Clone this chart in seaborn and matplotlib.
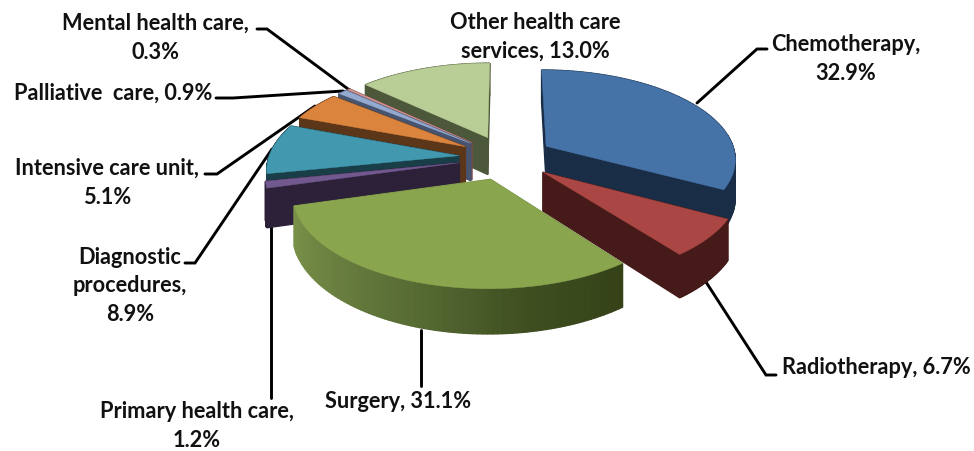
import numpy as np
import matplotlib
matplotlib.use("Agg")
import matplotlib.pyplot as plt
import seaborn as sns

categories = ["Chemotherapy", "Radiotherapy", "Surgery", "Primary health care",
              "Diagnostic procedures", "Intensive care unit", "Palliative care",
              "Mental health care", "Other health care services"]
shares = [32.9, 6.7, 31.1, 1.2, 8.9, 5.1, 0.9, 0.3, 13.0]
top_colors = ["#4572a7", "#aa4643", "#89a54e", "#71588f", "#4198af",
              "#db843d", "#93a9cf", "#d19392", "#b9cd96"]
wall_colors = ["#1a2d47", "#451a18", "#748c46", "#2d2139", "#1a3e47",
               "#5c3618", "#46546f", "#7a4b4a", "#4d5739"]

sns.set_theme(style="white")
plt.rcParams["font.family"] = ["Lato", "DejaVu Sans"]

fig, ax = plt.subplots(figsize=(9.74, 4.51), dpi=100)
fig.subplots_adjust(0, 0, 1, 1)

# the pie gives the angles and the exploded centres, the tilt is done by hand
wedges, _ = ax.pie(shares, explode=[0.25] * len(shares), startangle=90,
                   counterclock=False, colors=sns.color_palette(top_colors))

ax.set_aspect("auto")
ax.set_xlim(0, 974)
ax.set_ylim(451, 0)
ax.axis("off")

rim_fade = sns.blend_palette(["#7a9249", "#6a8040", "#566a33", "#3f4f20", "#354218"], 101)


def project(x, y, depth=0.0):
    w = 1 + 0.13 * y
    return 506 + 190 * x / w, 157.5 + (-89 * y + depth) / w


def quad(p, q, depth, color, z):
    a = project(*p)
    b = project(*q)
    c = project(*q, depth)
    d = project(*p, depth)
    ax.fill([a[0], b[0], c[0], d[0]], [a[1], b[1], c[1], d[1]],
            color=color, lw=0.9, zorder=z)


# back slices first, the three big front ones last
draw_order = [8, 7, 6, 5, 4, 3, 0, 1, 2]
for rank, i in enumerate(draw_order):
    wedge = wedges[i]
    wedge.set_visible(False)
    z = 10 + rank
    t = np.radians(np.linspace(wedge.theta1, wedge.theta2, 90))
    cx, cy = wedge.center
    xs = cx + wedge.r * np.cos(t)
    ys = cy + wedge.r * np.sin(t)
    depth = 38

    quad((cx, cy), (xs[0], ys[0]), depth, wall_colors[i], z)
    quad((cx, cy), (xs[-1], ys[-1]), depth, wall_colors[i], z)
    for k in range(len(t) - 1):
        color = wall_colors[i]
        if categories[i] == "Surgery":
            # surgery rim fades from left to right
            color = rim_fade[int(100 * k / (len(t) - 2))]
        quad((xs[k], ys[k]), (xs[k + 1], ys[k + 1]), depth, color, z)

    px, py = project(np.r_[cx, xs, cx], np.r_[cy, ys, cy])
    ax.fill(px, py, color=top_colors[i], lw=0.3, zorder=z)

# leader lines
leaders = [
    ([697, 757, 767], [103, 49, 49]),
    ([706, 766, 776], [282, 375, 375]),
    ([421, 421], [330, 386]),
    ([271, 271], [225, 398]),
    ([185, 195, 272], [263, 263, 149]),
    ([205, 217, 315], [174, 174, 106]),
    ([216, 233, 343], [98, 98, 91]),
    ([257, 267, 348], [29, 29, 89]),
]
for lx, ly in leaders:
    ax.plot(lx, ly, color="black", lw=2.1, zorder=5, solid_joinstyle="miter")

labels = [
    (846, 59, "Chemotherapy,\n32.9%"),
    (876, 368, "Radiotherapy, 6.7%"),
    (398, 401, "Surgery, 31.1%"),
    (197, 426, "Primary health care,\n1.2%"),
    (130, 286, "Diagnostic\nprocedures,\n8.9%"),
    (107, 183, "Intensive care unit,\n5.1%"),
    (113, 93, "Palliative  care, 0.9%"),
    (155, 38, "Mental health care,\n0.3%"),
    (535, 37, "Other health care\nservices, 13.0%"),
]
for lx, ly, s in labels:
    ax.text(lx, ly, s, ha="center", va="center", fontsize=15.7, fontweight="bold",
            color="#111111", linespacing=1.47, zorder=30)

fig.savefig("out.png", dpi=100)
